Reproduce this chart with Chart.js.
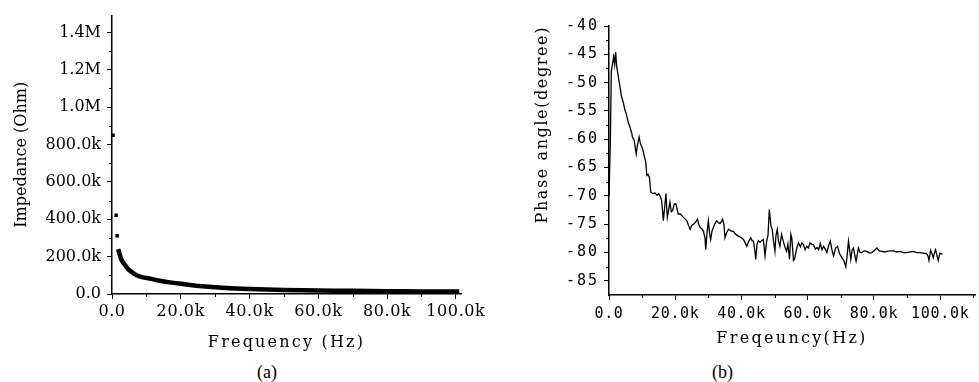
<!DOCTYPE html>
<html><head><meta charset="utf-8">
<script src="https://cdn.jsdelivr.net/npm/chart.js@4.4.1/dist/chart.umd.min.js"></script>
<style>
html,body{margin:0;padding:0;background:#fff;width:979px;height:382px;overflow:hidden;}
#wrapA{position:absolute;left:0;top:0;width:490px;height:360px;}
#wrapB{position:absolute;left:490px;top:0;width:489px;height:360px;}
.cap{position:absolute;font-family:"Liberation Serif";font-size:18px;line-height:20px;color:#000;}
</style></head><body>
<div id="wrapA"><canvas id="ca" width="490" height="360"></canvas></div>
<div id="wrapB"><canvas id="cb" width="489" height="360"></canvas></div>
<div class="cap" style="left:257px;top:362px">(a)</div>
<div class="cap" style="left:712px;top:362px">(b)</div>
<script>
// ---------- Data ----------
// (a) Impedance vs frequency: continuous band
const impFreq = [1800,2300,2800,3300,3800,4700,5500,6200,7000,7700,9000,10600,12000,13500,15500,17400,20000,22200,24500,27100,30000,32000,36000,40000,45000,50000,55000,60000,65000,70000,75000,80000,85000,90000,95000,100000,101000];
const impOhm  = [240000,207000,181000,166000,154000,133000,121000,111000,102000,96000,89000,84000,78000,72000,66000,61000,55000,49000,44000,40000,36000,34000,30000,27000,24000,22000,20000,19000,18000,17000,16000,15000,14500,14000,13500,13000,13000];
// (a) isolated low-frequency points
const impDotFreq = [300,1200,1500];
const impDotOhm  = [850000,422000,312000];

// (b) Phase angle vs frequency
const phaseFreq = [0,400,700,1100,1400,1700,2000,2300,2700,3300,3800,4300,4800,5300,5800,6300,6800,7100,7600,8200,8600,9100,9500,9900,10300,10700,11100,11400,11800,12200,12600,13200,13900,14500,15000,15400,15900,16400,16900,17200,17600,18000,18400,18800,19200,19700,20200,20900,21500,22500,23500,24000,24500,25000,25500,26200,26700,27100,27500,28000,28500,29000,29200,29600,30000,30400,30700,31100,31500,32000,32500,33000,33500,34000,34300,34700,35000,35500,36100,36800,37600,38300,39100,39800,40600,41100,41600,42200,42800,43200,43600,44000,44300,44700,45100,45600,46100,46600,47100,47600,48000,48400,48900,49300,49600,50100,50400,50800,51200,51600,52100,52600,53200,53600,54000,54500,54900,55200,55700,56000,56700,57200,57800,58200,58700,59200,59700,60200,60700,61300,61700,62300,62800,63300,63800,64300,64800,65300,65800,66300,66800,67300,67800,68400,69000,69600,70300,70900,71500,71900,72300,72700,73000,73400,73800,74200,74600,75000,75300,75800,76300,77000,77900,78600,79400,80200,80900,81600,82400,83100,83900,84900,85900,86900,87900,88900,89900,90900,91900,92900,93900,94900,95900,96300,96600,96900,97100,97500,97900,98300,98600,99000,99400,99900,100700];
const phaseDeg = [-70,-60.6,-48,-46.5,-45.4,-46.8,-44.6,-47,-48.5,-50.7,-52.5,-53.5,-54.8,-55.7,-57,-57.8,-58.8,-59.6,-60.2,-62.6,-61,-59.6,-60.8,-61.3,-62,-63.1,-64,-66.4,-66.2,-66.7,-69.3,-69.6,-69.5,-69.9,-69.6,-70,-70.8,-74.4,-71.4,-69.6,-73.8,-72.5,-71.1,-72.8,-72.6,-71.4,-71.4,-73.2,-73.2,-73.8,-74.4,-75.2,-75.9,-75.2,-75,-74.6,-74.1,-75,-75.6,-75.8,-76.2,-77.5,-79.5,-76.5,-74.4,-76.8,-77.7,-76.2,-75.6,-74.9,-74.4,-74.7,-74.9,-74.5,-74.1,-75,-77.4,-76.5,-75.9,-76.2,-76.3,-76.8,-77.1,-77.3,-77.7,-78.3,-78.9,-78,-77.4,-77.9,-78,-79.5,-81.2,-78.5,-77.9,-78.2,-77.9,-77.7,-80.6,-78,-77,-72.4,-75.3,-76,-77.7,-79.8,-77,-75.9,-78,-78.9,-76.8,-78,-79.2,-79.8,-78.5,-81.2,-76.8,-77.5,-81.4,-81.2,-79.2,-78.3,-79,-78.3,-78.6,-79.5,-78.9,-79.2,-78.3,-78.6,-78.6,-79.4,-79.1,-79.5,-78.4,-79.5,-78.9,-79.4,-80,-78.8,-78,-79.5,-80.6,-79.2,-78.9,-80.2,-80.9,-81.4,-82.5,-80.5,-78,-79.8,-81.2,-79.6,-79.2,-80.4,-81.5,-80.2,-79.2,-80,-80,-79.7,-79.8,-80.1,-80,-79.6,-79.2,-79.7,-79.8,-79.9,-79.8,-79.7,-79.7,-79.9,-79.8,-80,-80,-79.9,-79.8,-80,-80,-80.1,-80.2,-80.6,-81.4,-80.3,-79.6,-80.2,-80.9,-80,-79.5,-80.5,-81.4,-80.1,-80.3];

// Tick values / labels
const freqTickValues = [0,20000,40000,60000,80000,100000];
const freqTickLabels = ['0.0','20.0k','40.0k','60.0k','80.0k','100.0k'];
const impTickValues = [0,200000,400000,600000,800000,1000000,1200000,1400000];
const impTickLabels = ['0.0','200.0k','400.0k','600.0k','800.0k','1.0M','1.2M','1.4M'];
const phaseTickValues = [-85,-80,-75,-70,-65,-60,-55,-50,-45,-40];
const phaseTickLabels = ['-85','-80','-75','-70','-65','-60','-55','-50','-45','-40'];

const zip = (xs, ys) => xs.map((x, i) => ({x: x, y: ys[i]}));

const minorTicks = {
  id: 'minorTicks',
  afterDraw(chart, args, opts) {
    const ctx = chart.ctx;
    ctx.save(); ctx.strokeStyle = '#000'; ctx.lineWidth = 1;
    (opts.list || []).forEach(m => {
      const s = chart.scales[m.axis];
      for (let v = m.from; v <= m.to + 1e-9; v += m.step) {
        const p = Math.round(s.getPixelForValue(v)) + 0.5;
        ctx.beginPath();
        if (s.isHorizontal()) { ctx.moveTo(p, s.top); ctx.lineTo(p, s.top + m.len); }
        else { ctx.moveTo(s.right, p); ctx.lineTo(s.right - m.len, p); }
        ctx.stroke();
      }
    });
    ctx.restore();
  }
};

// letter spacing for scale texts (title / tick labels)
function wrapSpacing(scale, method, spacing) {
  if (!spacing || !scale || scale['__sp_' + method]) return;
  const orig = scale[method];
  scale[method] = function() {
    const ctx = this.ctx; const prev = ctx.letterSpacing;
    ctx.letterSpacing = spacing;
    try { return orig.apply(this, arguments); } finally { ctx.letterSpacing = prev || '0px'; }
  };
  scale['__sp_' + method] = true;
}
const spacing = {
  id: 'spacing',
  beforeDraw(chart, args, opts) {
    Object.keys(opts).forEach(k => {
      if (typeof opts[k] !== 'object') return;
      const s = chart.scales[k];
      if (!s) return;
      wrapSpacing(s, 'drawTitle', opts[k].title);
      wrapSpacing(s, 'drawLabels', opts[k].labels);
    });
  }
};

Chart.defaults.color = '#000';
Chart.defaults.animation = false;

const serifTick = {family: '"DejaVu Serif"', size: 16};
const serifTitle = {family: '"DejaVu Serif"', size: 16, lineHeight: 1.2};

// ---------- Chart (a) ----------
new Chart(document.getElementById('ca'), {
  type: 'scatter',
  data: {
    datasets: [
      {data: zip(impFreq, impOhm), showLine: true, borderColor: '#000', borderWidth: 4.5, pointRadius: 0, tension: 0, borderJoinStyle: 'round'},
      {data: zip(impDotFreq, impDotOhm), showLine: false, pointStyle: 'rect', pointRadius: 2.5, backgroundColor: '#000', borderColor: '#000', borderWidth: 0}
    ]
  },
  options: {
    responsive: false,
    layout: {padding: {left: 0, top: 12, right: 29, bottom: 0}},
    plugins: {legend: {display: false}, tooltip: {enabled: false},
      spacing: {x: {title: '2.2px', labels: '0.6px'}},
      minorTicks: {list: [
        {axis: 'x', from: 10000, to: 90000, step: 20000, len: 3},
        {axis: 'y', from: 100000, to: 1300000, step: 200000, len: 3}
      ]}},
    scales: {
      x: {type: 'linear', min: 0, max: 101500,
        afterBuildTicks: fixedTicks(freqTickValues),
        afterFit(s) { s.height = 66; },
        ticks: {callback: labelsFrom(freqTickValues, freqTickLabels), autoSkip: false, maxRotation: 0, padding: 3, font: serifTick, color: '#000'},
        grid: {drawOnChartArea: false, drawTicks: true, tickLength: 5, color: '#000'},
        border: {display: true, color: '#000', width: 1.5},
        title: {display: true, text: 'Frequency (Hz)', font: serifTitle, color: '#000', padding: {top: 0, bottom: 8}}
      },
      y: {type: 'linear', min: 0, max: 1490000,
        afterBuildTicks: fixedTicks(impTickValues),
        afterFit(s) { s.width = 112; },
        ticks: {callback: labelsFrom(impTickValues, impTickLabels), autoSkip: false, padding: 6, font: serifTick, color: '#000'},
        grid: {drawOnChartArea: false, drawTicks: true, tickLength: 5, color: '#000'},
        border: {display: true, color: '#000', width: 1.5},
        title: {display: true, text: 'Impedance (Ohm)', font: serifTitle, color: '#000', padding: {top: 12, bottom: 0}}
      }
    }
  },
  plugins: [minorTicks, spacing]
});

// ---------- Chart (b) ----------
const monoTick = {family: '"DejaVu Sans Mono"', size: 15};
new Chart(document.getElementById('cb'), {
  type: 'scatter',
  data: {
    datasets: [
      {data: zip(phaseFreq, phaseDeg), showLine: true, borderColor: '#000', borderWidth: 1.3, pointRadius: 0, tension: 0}
    ]
  },
  options: {
    responsive: false,
    layout: {padding: {left: 0, top: 26, right: 4, bottom: 0}},
    plugins: {legend: {display: false}, tooltip: {enabled: false},
      spacing: {x: {title: '2.3px', labels: '0.7px'}, y: {title: '1.6px', labels: '2px'}},
      minorTicks: {list: [
        {axis: 'x', from: 10000, to: 110000, step: 20000, len: 3},
        {axis: 'y', from: -82.5, to: -42.5, step: 5, len: 3}
      ]}},
    scales: {
      x: {type: 'linear', min: 0, max: 110500,
        afterBuildTicks: fixedTicks(freqTickValues),
        afterFit(s) { s.height = 65; },
        ticks: {callback: labelsFrom(freqTickValues, freqTickLabels), autoSkip: false, maxRotation: 0, padding: 5, font: monoTick, color: '#000'},
        grid: {drawOnChartArea: false, drawTicks: true, tickLength: 5, color: '#000'},
        border: {display: true, color: '#000', width: 1.5},
        title: {display: true, text: 'Freqeuncy(Hz)', font: serifTitle, color: '#000', padding: {top: 0, bottom: 12}}
      },
      y: {type: 'linear', min: -87.5, max: -40,
        afterBuildTicks: fixedTicks(phaseTickValues),
        afterFit(s) { s.width = 119; },
        ticks: {callback: labelsFrom(phaseTickValues, phaseTickLabels), autoSkip: false, padding: 5, font: monoTick, color: '#000'},
        grid: {drawOnChartArea: false, drawTicks: true, tickLength: 5, color: '#000'},
        border: {display: true, color: '#000', width: 1.5},
        title: {display: true, text: 'Phase angle(degree)', align: 'end', font: serifTitle, color: '#000', padding: {top: 43, bottom: 0}}
      }
    }
  },
  plugins: [minorTicks, spacing]
});

function fixedTicks(values) {
  return function(scale) { scale.ticks = values.map(v => ({value: v})); };
}
function labelsFrom(values, labels) {
  return function(v) { const i = values.indexOf(v); return i >= 0 ? labels[i] : ''; };
}
</script>
</body></html>
